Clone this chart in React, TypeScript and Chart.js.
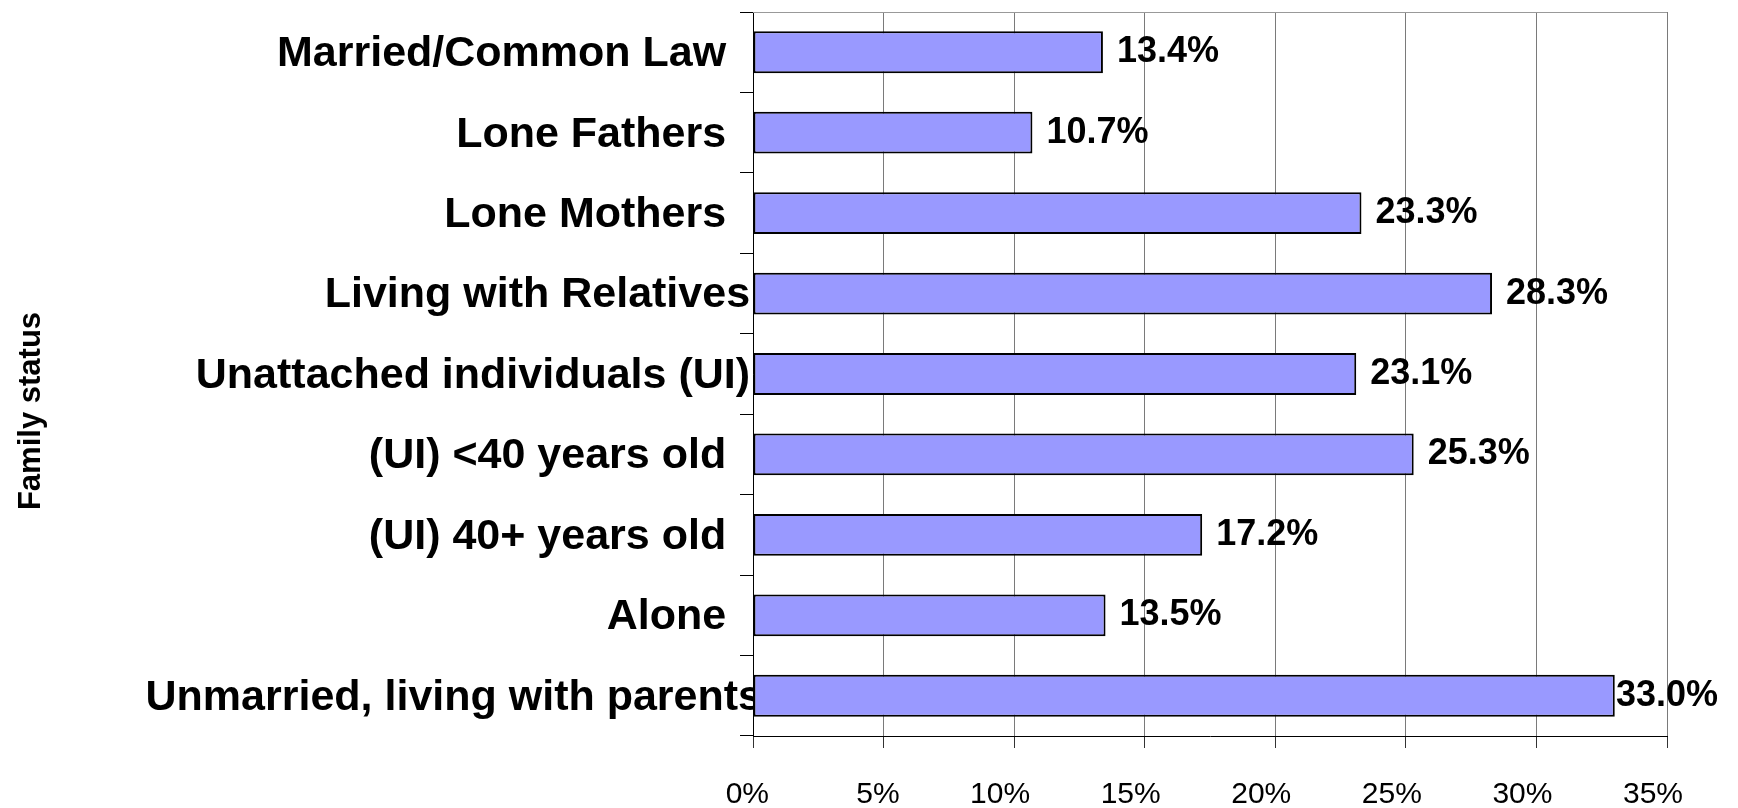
import React, { useEffect, useRef } from "react";
import { Chart, registerables } from "chart.js";

Chart.register(...registerables);

const categories = [
  "Married/Common Law",
  "Lone Fathers",
  "Lone Mothers",
  "Living with Relatives",
  "Unattached individuals (UI)",
  "(UI) <40 years old",
  "(UI) 40+ years old",
  "Alone",
  "Unmarried, living with parents",
];
const values = [13.4, 10.7, 23.3, 28.3, 23.1, 25.3, 17.2, 13.5, 33.0];
const valueLabels = ["13.4%", "10.7%", "23.3%", "28.3%", "23.1%", "25.3%", "17.2%", "13.5%", "33.0%"];
const axisTitle = "Family status";
// trailing-space padding per category label (styling only)
const labelPad = [3, 3, 3, 1, 1, 3, 3, 3, 0];

const FONT = "'Liberation Sans', Arial, Helvetica, sans-serif";

const extrasPlugin = {
  id: "extras",
  afterDatasetsDraw(chart: any) {
    const { ctx, chartArea } = chart;
    ctx.save();
    // top border
    ctx.strokeStyle = "#999999";
    ctx.lineWidth = 1;
    ctx.beginPath();
    ctx.moveTo(chartArea.left, Math.round(chartArea.top) + 0.5);
    ctx.lineTo(chartArea.right, Math.round(chartArea.top) + 0.5);
    ctx.stroke();
    // value labels
    const meta = chart.getDatasetMeta(0);
    ctx.fillStyle = "#000";
    ctx.font = `bold 36px ${FONT}`;
    ctx.textAlign = "left";
    ctx.textBaseline = "alphabetic";
    meta.data.forEach((bar: any, i: number) => {
      const w = ctx.measureText(valueLabels[i]).width;
      const x = Math.min(bar.x + 14, chart.width - 20 - w);
      ctx.fillText(valueLabels[i], x, bar.y + 10);
    });
    // y axis title
    ctx.font = `bold 31px ${FONT}`;
    ctx.textAlign = "center";
    ctx.textBaseline = "middle";
    ctx.translate(31, 411);
    ctx.rotate(-Math.PI / 2);
    ctx.fillText(axisTitle, 0, 0);
    ctx.restore();
  },
};

export default function App() {
  const ref = useRef<HTMLCanvasElement>(null);
  useEffect(() => {
    if (!ref.current) return;
    const chart = new Chart(ref.current, {
      type: "bar",
      data: {
        labels: categories,
        datasets: [
          {
            data: values,
            backgroundColor: "#9999FF",
            borderColor: "#000000",
            borderWidth: 2,
            borderSkipped: false,
            barPercentage: 0.52,
            categoryPercentage: 1,
          },
        ],
      },
      options: {
        indexAxis: "y",
        animation: false,
        responsive: false,
        devicePixelRatio: 1,
        layout: { padding: { left: 0, top: 12, right: 71, bottom: 0 } },
        plugins: { legend: { display: false }, tooltip: { enabled: false } },
        scales: {
          x: {
            min: 0,
            max: 35,
            afterFit: (s: any) => {
              s.height = 72;
            },
            ticks: {
              stepSize: 5,
              callback: (v: any) => v + "%",
              color: "#000",
              font: { family: FONT, size: 30 },
              padding: 29,
              align: "end",
              labelOffset: 16,
              maxRotation: 0,
              autoSkip: false,
            },
            grid: {
              color: "#7a7a7a",
              lineWidth: 1,
              tickLength: 12,
              tickColor: "#333",
            },
            border: { display: true, color: "#000", width: 1 },
          },
          y: {
            afterFit: (s: any) => {
              s.width = 753;
            },
            ticks: {
              callback: (_v: any, i: number) => categories[i] + " ".repeat(labelPad[i]),
              color: "#000",
              font: { family: FONT, size: 43, weight: "bold" },
              padding: -22,
              labelOffset: 2,
              autoSkip: false,
            },
            grid: {
              offset: true,
              drawOnChartArea: false,
              tickLength: 13,
              tickColor: "#000",
            },
            border: { display: true, color: "#000", width: 1 },
          },
        },
      },
      plugins: [extrasPlugin],
    });
    return () => chart.destroy();
  }, []);
  return (
    <div style={{ position: "fixed", left: 0, top: 0, width: 1738, height: 808, background: "#fff" }}>
      <canvas ref={ref} width={1738} height={808} />
    </div>
  );
}
